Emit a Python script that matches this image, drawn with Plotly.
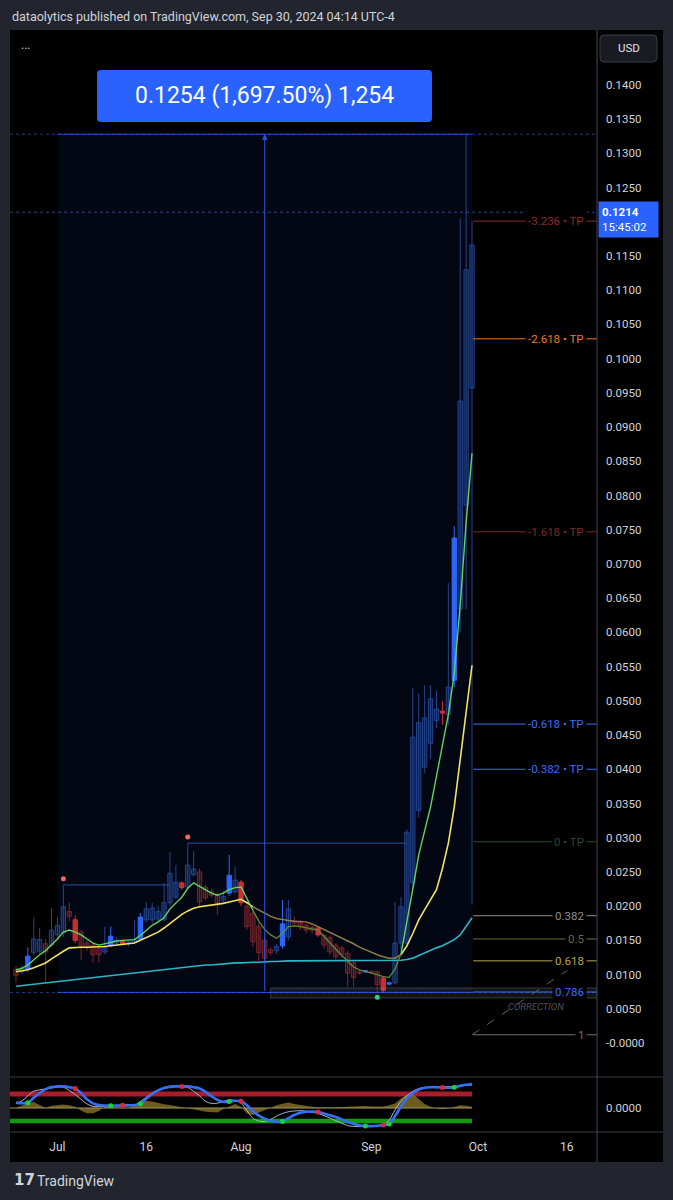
import plotly.graph_objects as go

# ---------------- data ----------------
bar_index = list(range(78))
opens = [0.0107,0.0104,0.0108,0.0132,0.0134,0.0145,0.0143,0.0158,0.0161,0.0192,
         0.0180,0.0162,0.0146,0.0143,0.0138,0.0133,0.0143,0.0146,0.0149,0.0146,
         0.0147,0.0152,0.0180,0.0180,0.0181,0.0180,0.0205,0.0213,0.0234,0.0228,
         0.0246,0.0250,0.0228,0.0221,0.0216,0.0209,0.0219,0.0221,0.0235,0.0200,
         0.0190,0.0170,0.0150,0.0136,0.0135,0.0142,0.0155,0.0178,0.0176,0.0172,
         0.0169,0.0168,0.0157,0.0154,0.0143,0.0139,0.0131,0.0117,0.0104,0.0104,
         0.0105,0.0104,0.0095,0.0086,0.0088,0.0146,0.0146,0.0234,0.0340,0.0403,
         0.0438,0.0471,0.0485,0.0480,0.0530,0.0634,0.0786,0.0957]
highs = [0.0113,0.0114,0.0140,0.0183,0.0168,0.0152,0.0197,0.0184,0.0231,0.0205,
         0.0186,0.0165,0.0150,0.0147,0.0141,0.0170,0.0170,0.0155,0.0151,0.0150,
         0.0180,0.0190,0.0206,0.0205,0.0200,0.0234,0.0279,0.0260,0.0236,0.0292,
         0.0280,0.0255,0.0232,0.0225,0.0220,0.0222,0.0275,0.0257,0.0238,0.0205,
         0.0195,0.0175,0.0155,0.0140,0.0145,0.0209,0.0209,0.0185,0.0180,0.0175,
         0.0172,0.0170,0.0160,0.0157,0.0146,0.0142,0.0134,0.0120,0.0106,0.0107,
         0.0106,0.0106,0.0097,0.0090,0.0206,0.0213,0.0312,0.0519,0.0511,0.0523,
         0.0523,0.0515,0.0500,0.0672,0.0755,0.1205,0.1328,0.1201]
lows = [0.0088,0.0100,0.0104,0.0128,0.0130,0.0088,0.0140,0.0152,0.0155,0.0178,
        0.0146,0.0121,0.0135,0.0117,0.0117,0.0130,0.0140,0.0143,0.0143,0.0141,
        0.0145,0.0149,0.0176,0.0175,0.0178,0.0178,0.0200,0.0210,0.0224,0.0225,
        0.0243,0.0200,0.0208,0.0212,0.0187,0.0205,0.0215,0.0218,0.0200,0.0165,
        0.0140,0.0120,0.0118,0.0128,0.0130,0.0138,0.0150,0.0170,0.0165,0.0160,
        0.0160,0.0155,0.0138,0.0128,0.0122,0.0125,0.0082,0.0082,0.0100,0.0102,
        0.0101,0.0075,0.0074,0.0084,0.0085,0.0135,0.0140,0.0225,0.0330,0.0395,
        0.0415,0.0460,0.0465,0.0465,0.0520,0.0600,0.0634,0.0202]
closes = [0.0099,0.0110,0.0127,0.0152,0.0151,0.0133,0.0165,0.0172,0.0199,0.0185,
          0.0150,0.0140,0.0139,0.0129,0.0129,0.0140,0.0156,0.0150,0.0145,0.0148,
          0.0151,0.0184,0.0196,0.0197,0.0192,0.0205,0.0248,0.0235,0.0227,0.0260,
          0.0254,0.0206,0.0212,0.0216,0.0205,0.0214,0.0245,0.0238,0.0205,0.0170,
          0.0148,0.0132,0.0124,0.0132,0.0141,0.0174,0.0196,0.0175,0.0170,0.0165,
          0.0165,0.0158,0.0143,0.0133,0.0126,0.0129,0.0102,0.0096,0.0102,0.0106,
          0.0103,0.0085,0.0077,0.0088,0.0146,0.0199,0.0308,0.0447,0.0468,0.0475,
          0.0503,0.0488,0.0482,0.0520,0.0738,0.0938,0.1130,0.1166]

ema_fast = [0.0107,0.0109,0.0114,0.0122,0.0129,0.0135,0.0143,0.0152,0.0162,0.0165,
            0.0162,0.0158,0.0152,0.0146,0.0143,0.0145,0.0148,0.0149,0.0150,0.0150,
            0.0151,0.0157,0.0165,0.0172,0.0177,0.0183,0.0196,0.0205,0.0213,0.0226,
            0.0234,0.0229,0.0224,0.0219,0.0216,0.0219,0.0224,0.0227,0.0228,0.0211,
            0.0194,0.0178,0.0166,0.0158,0.0153,0.0160,0.0170,0.0171,0.0170,0.0168,
            0.0167,0.0165,0.0156,0.0146,0.0137,0.0128,0.0119,0.0111,0.0107,0.0104,
            0.0102,0.0100,0.0097,0.0096,0.0108,0.0130,0.0175,0.0225,0.0275,0.0310,
            0.0345,0.0390,0.0433,0.0480,0.0540,0.0640,0.0760,0.0862]
ema_slow = [0.0104,0.0105,0.0107,0.0110,0.0114,0.0117,0.0123,0.0129,0.0134,0.0139,
            0.0140,0.0140,0.0140,0.0140,0.0140,0.0141,0.0142,0.0143,0.0144,0.0145,
            0.0146,0.0150,0.0154,0.0158,0.0162,0.0168,0.0175,0.0182,0.0188,0.0193,
            0.0197,0.0199,0.0200,0.0201,0.0202,0.0204,0.0206,0.0208,0.0210,0.0205,
            0.0199,0.0194,0.0189,0.0185,0.0182,0.0180,0.0179,0.0178,0.0178,0.0177,
            0.0174,0.0170,0.0166,0.0162,0.0158,0.0153,0.0149,0.0145,0.0140,0.0136,
            0.0132,0.0129,0.0126,0.0124,0.0124,0.0129,0.0142,0.0160,0.0180,0.0195,
            0.0209,0.0224,0.0255,0.0292,0.0345,0.0414,0.0480,0.0552]
ma_long = [0.0083,0.0084,0.0085,0.0086,0.0087,0.0088,0.0088,0.0089,0.0090,0.0091,
           0.0092,0.0093,0.0094,0.0095,0.0096,0.0097,0.0098,0.0099,0.0100,0.0101,
           0.0102,0.0103,0.0104,0.0105,0.0106,0.0107,0.0108,0.0109,0.0110,0.0111,
           0.0112,0.0113,0.0114,0.0114,0.0115,0.0116,0.0116,0.0117,0.0117,0.0118,
           0.0118,0.0118,0.0119,0.0119,0.0119,0.0120,0.0120,0.0120,0.0120,0.0121,
           0.0121,0.0121,0.0121,0.0121,0.0121,0.0121,0.0121,0.0120,0.0120,0.0120,
           0.0120,0.0120,0.0120,0.0120,0.0120,0.0121,0.0122,0.0124,0.0128,0.0132,
           0.0136,0.0139,0.0142,0.0146,0.0151,0.0158,0.0170,0.0183]

osc_fast = [0.18,0.26,0.45,0.62,0.67,0.71,0.74,0.77,0.77,0.65,
            0.50,0.32,0.15,0.06,0.05,0.07,0.09,0.08,0.08,0.08,
            0.10,0.24,0.40,0.56,0.67,0.76,0.81,0.81,0.79,0.76,
            0.62,0.45,0.25,0.17,0.18,0.24,0.30,0.27,0.18,-0.10,
            -0.38,-0.48,-0.50,-0.42,-0.30,-0.20,-0.14,-0.11,-0.10,-0.12,
            -0.16,-0.20,-0.28,-0.37,-0.47,-0.56,-0.65,-0.68,-0.69,-0.69,
            -0.68,-0.66,-0.63,-0.45,-0.07,0.25,0.45,0.62,0.72,0.76,
            0.77,0.77,0.78,0.79,0.80,0.82,0.84,0.85]
osc_slow = [0.20,0.18,0.19,0.38,0.55,0.70,0.78,0.80,0.80,0.77,
            0.72,0.55,0.32,0.17,0.11,0.09,0.085,0.09,0.10,0.10,
            0.11,0.16,0.35,0.52,0.65,0.74,0.78,0.80,0.80,0.80,
            0.77,0.72,0.60,0.44,0.30,0.23,0.24,0.27,0.25,0.10,
            -0.12,-0.28,-0.40,-0.48,-0.51,-0.50,-0.38,-0.26,-0.18,-0.14,
            -0.13,-0.15,-0.20,-0.27,-0.33,-0.42,-0.52,-0.58,-0.64,-0.67,
            -0.67,-0.66,-0.63,-0.59,-0.30,0.05,0.35,0.55,0.68,0.75,
            0.77,0.77,0.76,0.75,0.77,0.82,0.86,0.89]
osc_hist = [0.00,0.08,0.18,0.22,0.10,0.00,0.08,0.11,0.13,0.10,
            0.05,-0.10,-0.19,-0.19,-0.10,0.05,0.03,0.03,0.01,0.00,
            0.10,0.20,0.27,0.24,0.18,0.14,0.11,0.07,0.04,0.01,
            -0.03,-0.09,-0.14,-0.16,-0.17,-0.05,0.06,0.15,0.05,-0.20,
            -0.26,-0.17,-0.10,0.00,0.10,0.16,0.20,0.15,0.11,0.08,
            0.05,0.03,0.02,0.02,0.03,0.04,0.05,0.06,0.07,0.07,
            0.06,0.05,0.06,0.10,0.17,0.35,0.48,0.52,0.35,0.15,
            0.05,-0.02,-0.05,-0.02,0.04,0.10,0.08,0.05]
osc_upper, osc_lower = 0.52, -0.48

bull_cross = [2, 16, 21, 36, 45, 59, 63, 74]
bear_cross = [10, 18, 28, 38, 51, 62, 72]

pivot_high_idx = [8, 29]
pivot_high_val = [0.0240, 0.0301]
pivot_line_val = [0.0231, 0.0292]
pivot_line_end = [26, 66]
pivot_low_idx = [61]
pivot_low_val = [0.0067]

measure_start, measure_end, measure_mid = 7, 77, 42
measure_low, measure_high = 0.00739, 0.1328
measure_text = "0.1254 (1,697.50%) 1,254"
last_price = 0.1214
countdown = "15:45:02"

fib_labels = ["-3.236 • TP", "-2.618 • TP", "-1.618 • TP", "-0.618 • TP", "-0.382 • TP",
              "0 • TP", "0.382", "0.5", "0.618", "0.786", "1"]
fib_prices = [0.1201, 0.1029, 0.0747, 0.0466, 0.0400, 0.0294, 0.0186, 0.0152, 0.0120, 0.00745, 0.0012]
box_786 = (43, 0.00658, 0.00804)
correction_end = (96.4, 0.01257)

time_tick_idx = [7, 22, 38, 60, 78, 93]
time_tick_text = ["Jul", "16", "Aug", "Sep", "Oct", "16"]
# 0.1200 is hidden behind the last-price label in the reference
price_tick_text = ["-0.0000", "0.0050", "0.0100", "0.0150", "0.0200", "0.0250", "0.0300",
                   "0.0350", "0.0400", "0.0450", "0.0500", "0.0550", "0.0600", "0.0650",
                   "0.0700", "0.0750", "0.0800", "0.0850", "0.0900", "0.0950", "0.1000",
                   "0.1050", "0.1100", "0.1150", "0.1250", "0.1300", "0.1350", "0.1400"]

header_text = "dataolytics published on TradingView.com, Sep 30, 2024 04:14 UTC-4"

# ---------------- layout constants ----------------
W, H = 673, 1200
X_RANGE = [-1.01, 98.1]
Y_RANGE = [-0.00497, 0.14803]
OSC_RANGE = [-0.889, 1.148]
FONT = "Roboto, 'Open Sans', sans-serif"
TXT = "#d1d4dc"
FRAME = "#22252d"


def px(x):
    return x / W


def py(y):
    return 1 - y / H


def rrect(x0, y0, x1, y1, r):
    """Rounded rectangle path in paper coords from page-pixel corners."""
    return (f"M {px(x0 + r)},{py(y0)} L {px(x1 - r)},{py(y0)} Q {px(x1)},{py(y0)} {px(x1)},{py(y0 + r)} "
            f"L {px(x1)},{py(y1 - r)} Q {px(x1)},{py(y1)} {px(x1 - r)},{py(y1)} "
            f"L {px(x0 + r)},{py(y1)} Q {px(x0)},{py(y1)} {px(x0)},{py(y1 - r)} "
            f"L {px(x0)},{py(y0 + r)} Q {px(x0)},{py(y0)} {px(x0 + r)},{py(y0)} Z")


fig = go.Figure()

# ---------------- candles ----------------
styles = {
    "up": dict(line="#24458f", fill="rgba(30,60,130,0.40)"),
    "dn": dict(line="#7a262d", fill="rgba(110,30,38,0.40)"),
    "bu": dict(line="#2f6bff", fill="#2962ff"),
    "bd": dict(line="#d0343b", fill="#c62828"),
}
groups = {k: [] for k in styles}
for i in bar_index:
    if i in bull_cross:
        groups["bu"].append(i)
    elif i in bear_cross:
        groups["bd"].append(i)
    elif closes[i] >= opens[i]:
        groups["up"].append(i)
    else:
        groups["dn"].append(i)

for key in ["up", "dn", "bu", "bd"]:
    idx = groups[key]
    wx, wy = [], []
    for i in idx:
        wx += [i, i, None]
        wy += [lows[i], highs[i], None]
    fig.add_trace(go.Scatter(x=wx, y=wy, mode="lines", line=dict(color=styles[key]["line"], width=1),
                             hoverinfo="skip", xaxis="x", yaxis="y"))
for key in ["up", "dn", "bu", "bd"]:
    idx = groups[key]
    fig.add_trace(go.Bar(x=idx, base=[min(opens[i], closes[i]) for i in idx],
                         y=[abs(closes[i] - opens[i]) for i in idx], width=0.72,
                         marker=dict(color=styles[key]["fill"], line=dict(color=styles[key]["line"], width=1)),
                         hoverinfo="skip", xaxis="x", yaxis="y"))

# ---------------- moving averages ----------------
bull = [f >= s for f, s in zip(ema_fast, ema_slow)]


def split(vals, mask):
    on, off = [], []
    for i, v in enumerate(vals):
        prev = mask[i - 1] if i > 0 else mask[i]
        on.append(v if (mask[i] or prev) else None)
        off.append(v if (not mask[i] or not prev) else None)
    return on, off


fig.add_trace(go.Scatter(x=bar_index, y=ma_long, mode="lines", line=dict(color="#2bb7c6", width=1.6),
                         hoverinfo="skip", xaxis="x", yaxis="y"))
s_on, s_off = split(ema_slow, bull)
f_on, f_off = split(ema_fast, bull)
fig.add_trace(go.Scatter(x=bar_index, y=s_off, mode="lines", line=dict(color="#8f7d45", width=1.5),
                         connectgaps=False, hoverinfo="skip", xaxis="x", yaxis="y"))
fig.add_trace(go.Scatter(x=bar_index, y=s_on, mode="lines", line=dict(color="#f3e35a", width=1.6),
                         connectgaps=False, hoverinfo="skip", xaxis="x", yaxis="y"))
fig.add_trace(go.Scatter(x=bar_index, y=f_off, mode="lines", line=dict(color="#5f8a3c", width=1.3),
                         connectgaps=False, hoverinfo="skip", xaxis="x", yaxis="y"))
fig.add_trace(go.Scatter(x=bar_index, y=f_on, mode="lines", line=dict(color="#5fd45f", width=1.4),
                         connectgaps=False, hoverinfo="skip", xaxis="x", yaxis="y"))

fig.add_trace(go.Scatter(x=pivot_high_idx, y=pivot_high_val, mode="markers",
                         marker=dict(color="#f26b60", size=5), hoverinfo="skip", xaxis="x", yaxis="y"))
fig.add_trace(go.Scatter(x=pivot_low_idx, y=pivot_low_val, mode="markers",
                         marker=dict(color="#1de07a", size=5), hoverinfo="skip", xaxis="x", yaxis="y"))

# ---------------- oscillator pane ----------------
fig.add_trace(go.Scatter(x=[X_RANGE[0], bar_index[-1]], y=[osc_upper, osc_upper], mode="lines",
                         line=dict(color="#a61e2a", width=5), hoverinfo="skip", xaxis="x2", yaxis="y2"))
fig.add_trace(go.Scatter(x=[X_RANGE[0], bar_index[-1]], y=[osc_lower, osc_lower], mode="lines",
                         line=dict(color="#139a13", width=4.5), hoverinfo="skip", xaxis="x2", yaxis="y2"))
fig.add_trace(go.Scatter(x=bar_index, y=osc_hist, mode="lines", fill="tozeroy",
                         fillcolor="rgba(150,128,40,0.72)", line=dict(width=0, color="rgba(0,0,0,0)"),
                         hoverinfo="skip", xaxis="x2", yaxis="y2"))
fig.add_trace(go.Scatter(x=[X_RANGE[0], bar_index[-1]], y=[0, 0], mode="lines",
                         line=dict(color="#a09565", width=1.2), hoverinfo="skip", xaxis="x2", yaxis="y2"))
fig.add_trace(go.Scatter(x=bar_index, y=osc_fast, mode="lines", line=dict(color="#aab6c8", width=1),
                         line_shape="spline", hoverinfo="skip", xaxis="x2", yaxis="y2"))
fig.add_trace(go.Scatter(x=bar_index, y=osc_slow, mode="lines", line=dict(color="#3370f5", width=2.6),
                         line_shape="spline", hoverinfo="skip", xaxis="x2", yaxis="y2"))
fig.add_trace(go.Scatter(x=bull_cross, y=[osc_slow[i] for i in bull_cross], mode="markers",
                         marker=dict(color="#19d23c", size=5), hoverinfo="skip", xaxis="x2", yaxis="y2"))
fig.add_trace(go.Scatter(x=bear_cross, y=[osc_slow[i] for i in bear_cross], mode="markers",
                         marker=dict(color="#e0283c", size=5), hoverinfo="skip", xaxis="x2", yaxis="y2"))

# ---------------- shapes ----------------
shapes = []
shapes.append(dict(type="rect", xref="paper", yref="paper", x0=px(10), x1=px(663), y0=py(1162), y1=py(30),
                   fillcolor="#000000", line=dict(width=0), layer="below"))
shapes.append(dict(type="rect", xref="x", yref="y", x0=measure_start, x1=measure_end,
                   y0=measure_low, y1=measure_high, fillcolor="rgba(41,98,255,0.075)", line=dict(width=0),
                   layer="below"))
for yv in (measure_low, measure_high):
    shapes.append(dict(type="line", xref="x", yref="y", x0=X_RANGE[0], x1=X_RANGE[1], y0=yv, y1=yv,
                       line=dict(color="rgba(60,110,240,0.55)", width=1, dash="dot")))
    shapes.append(dict(type="line", xref="x", yref="y", x0=measure_start, x1=measure_end, y0=yv, y1=yv,
                       line=dict(color="rgba(41,98,255,0.8)", width=1)))
shapes.append(dict(type="line", xref="x", yref="y", x0=X_RANGE[0], x1=X_RANGE[1], y0=last_price, y1=last_price,
                   line=dict(color="rgba(70,110,220,0.6)", width=1, dash="dot")))
for i0, i1, v in zip(pivot_high_idx, pivot_line_end, pivot_line_val):
    shapes.append(dict(type="line", xref="x", yref="y", x0=i0, x1=i1, y0=v, y1=v,
                       line=dict(color="#2a4da6", width=1)))
shapes.append(dict(type="rect", xref="x", yref="y", x0=box_786[0], x1=X_RANGE[1], y0=box_786[1], y1=box_786[2],
                   fillcolor="rgba(120,123,134,0.16)", line=dict(color="rgba(140,143,154,0.35)", width=1)))
fib_colors = ["#8c2c2c", "#f07a22", "#7d2a2a", "#3a6ff7", "#3a6ff7", "#2b4a2e",
              "#8f8f8f", "#6f6b38", "#b9a848", "#3a6ff7", "#727272"]
for v, c in zip(fib_prices, fib_colors):
    shapes.append(dict(type="line", xref="x", yref="y", x0=bar_index[-1] + 0.2, x1=X_RANGE[1], y0=v, y1=v,
                       line=dict(color=c, width=1)))
shapes.append(dict(type="line", xref="x", yref="y", x0=bar_index[-1], x1=correction_end[0],
                   y0=fib_prices[-1], y1=correction_end[1], line=dict(color="#5e616b", width=1, dash="dash")))
for yy in (1077, 1132):
    shapes.append(dict(type="line", xref="paper", yref="paper", x0=px(10), x1=px(663), y0=py(yy), y1=py(yy),
                       line=dict(color="#363a45", width=1)))
shapes.append(dict(type="line", xref="paper", yref="paper", x0=px(597), x1=px(597), y0=py(1162), y1=py(30),
                   line=dict(color="#434651", width=1)))
shapes.append(dict(type="path", xref="paper", yref="paper", path=rrect(600, 35, 657, 62, 4),
                   fillcolor="#181b22", line=dict(color="#3b3f4a", width=1)))
shapes.append(dict(type="path", xref="paper", yref="paper", path=rrect(97, 70, 432, 122, 4),
                   fillcolor="#2962ff", line=dict(width=0)))

# ---------------- annotations ----------------
ann = []
ann.append(dict(text=header_text, xref="paper", yref="paper", x=px(10), y=py(17), xanchor="left",
                yanchor="middle", showarrow=False, font=dict(family=FONT, size=12.5, color=TXT)))
ann.append(dict(text="...", xref="paper", yref="paper", x=px(19), y=py(45), xanchor="left", yanchor="middle",
                showarrow=False, font=dict(family=FONT, size=12, color="#d1d4dc")))
ann.append(dict(text="USD", xref="paper", yref="paper", x=px(628.5), y=py(48.5), xanchor="center",
                yanchor="middle", showarrow=False, font=dict(family=FONT, size=11.5, color="#e0e3eb")))
ann.append(dict(text=measure_text, xref="paper", yref="paper", x=px(264.5), y=py(96), xanchor="center",
                yanchor="middle", showarrow=False, font=dict(family=FONT, size=23, color="#ffffff")))
ann.append(dict(x=measure_mid, y=measure_high, ax=measure_mid, ay=measure_low, xref="x", yref="y",
                axref="x", ayref="y", text="", showarrow=True, arrowhead=2, arrowsize=1.1, arrowwidth=1,
                arrowcolor="rgba(41,98,255,0.9)"))
ann.append(dict(text="<b>%.4f</b><br>%s" % (last_price, countdown), xref="paper", yref="y", x=px(598),
                y=last_price, yshift=-7, xanchor="left", yanchor="middle", showarrow=False, align="left",
                bgcolor="#2962ff", borderpad=3, width=53, font=dict(family=FONT, size=11.5, color="#ffffff")))
for lab, v, c in zip(fib_labels, fib_prices, fib_colors):
    ann.append(dict(text=lab, xref="paper", yref="y", x=px(587), y=v, xanchor="right", yanchor="middle",
                    showarrow=False, bgcolor="#000000", borderpad=2,
                    font=dict(family=FONT, size=11.5, color=c)))
ann.append(dict(text="<i>CORRECTION</i>", xref="paper", yref="y", x=px(536), y=0.00526, xanchor="center",
                yanchor="middle", showarrow=False, font=dict(family=FONT, size=9.5, color="#50535c")))
ann.append(dict(text="<b>17</b>", xref="paper", yref="paper", x=px(12), y=py(1180), xanchor="left",
                yanchor="middle", showarrow=False, font=dict(family="DejaVu Sans", size=15, color="#d1d4dc")))
ann.append(dict(text="TradingView", xref="paper", yref="paper", x=px(35), y=py(1181), xanchor="left",
                yanchor="middle", showarrow=False, font=dict(family=FONT, size=14, color="#d1d4dc")))

fig.update_layout(
    width=W, height=H, margin=dict(l=0, r=0, t=0, b=0),
    paper_bgcolor=FRAME, plot_bgcolor="rgba(0,0,0,0)",
    showlegend=False, barmode="overlay", hovermode=False,
    shapes=shapes, annotations=ann,
    xaxis=dict(domain=[px(10), px(597)], range=X_RANGE, anchor="y", showgrid=False, zeroline=False,
               showticklabels=False, ticks="", showline=False, fixedrange=True),
    yaxis=dict(domain=[py(1077), py(30)], range=Y_RANGE, anchor="x", side="right", showgrid=False,
               zeroline=False, ticks="", showline=False,
               tickvals=[float(t) for t in price_tick_text], ticktext=price_tick_text,
               tickfont=dict(family=FONT, size=11.5, color=TXT), ticklabelstandoff=8, fixedrange=True),
    xaxis2=dict(domain=[px(10), px(597)], range=X_RANGE, anchor="y2", matches="x", showgrid=False,
                zeroline=False, ticks="", showline=False, tickvals=time_tick_idx, ticktext=time_tick_text,
                tickfont=dict(family=FONT, size=12, color=TXT), ticklabelstandoff=6, fixedrange=True),
    yaxis2=dict(domain=[py(1132), py(1077)], range=OSC_RANGE, anchor="x2", side="right", showgrid=False,
                zeroline=False, ticks="", showline=False, tickvals=[0], ticktext=["0.0000"],
                tickfont=dict(family=FONT, size=11.5, color=TXT), ticklabelstandoff=8, fixedrange=True),
)

fig.write_html("out.html", config={"displayModeBar": False},
               post_script="document.body.style.margin='0';document.body.style.background='%s';" % FRAME)
